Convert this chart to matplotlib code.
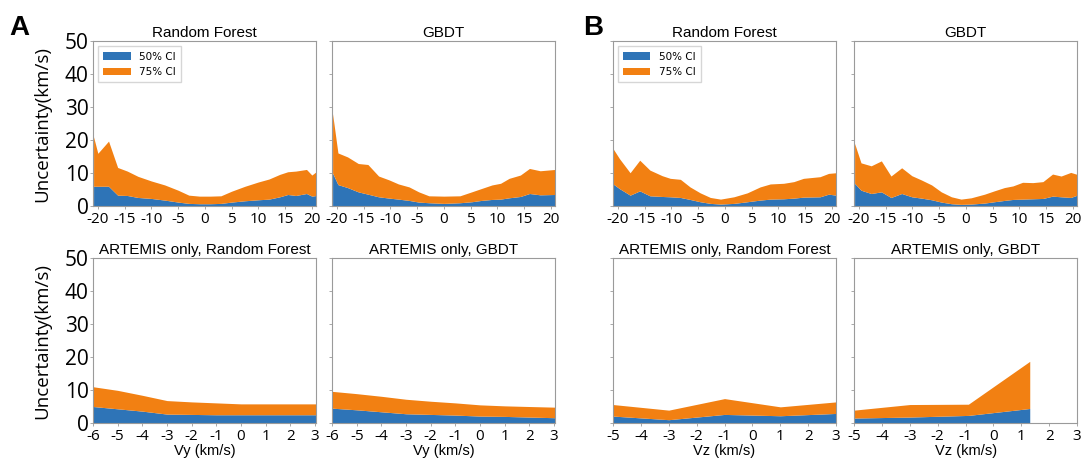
import matplotlib
matplotlib.use("Agg")
import matplotlib.pyplot as plt

plt.rcParams["axes.unicode_minus"] = False

# ---- data: (x, 50% CI, 75% CI) for each panel ----
vy_rf_x = [-20.8, -20, -18, -16.3, -14.5, -12.5, -10, -7.5, -5, -3, -1, 1, 3, 5, 7.5, 10, 12, 14, 15.5, 17, 19, 20, 20.8]
vy_rf_50 = [6, 6, 6, 3.3, 3.2, 2.6, 2.3, 1.8, 1.2, 0.8, 0.7, 0.7, 0.8, 1.2, 1.6, 1.9, 2.1, 2.8, 3.5, 3.2, 3.8, 3.0, 3.2]
vy_rf_75 = [21, 16, 19.7, 11.7, 10.6, 9.0, 7.6, 6.4, 4.8, 3.3, 3.0, 3.0, 3.1, 4.5, 6.0, 7.3, 8.2, 9.6, 10.4, 10.6, 11.1, 9.4, 10.4]

vy_gb_x = [-20.8, -19.8, -18, -16, -14.2, -12.2, -10.2, -8.5, -6.5, -4.7, -2.8, 0, 3, 5.2, 7, 9, 10.6, 12.2, 14.3, 16, 18, 20.8]
vy_gb_50 = [10, 6.5, 5.6, 4.3, 3.6, 2.8, 2.4, 2.1, 1.7, 1.2, 1.0, 0.8, 1.0, 1.3, 1.7, 2.0, 2.1, 2.5, 2.9, 3.8, 3.4, 3.5]
vy_gb_75 = [28, 16.1, 14.9, 12.9, 12.6, 9.1, 7.9, 6.7, 5.8, 4.3, 3.1, 3.0, 3.1, 4.3, 5.3, 6.4, 6.9, 8.4, 9.4, 11.4, 10.7, 11.1]

vz_rf_x = [-20.8, -19.7, -17.7, -15.9, -14, -11.7, -10.2, -8.3, -6.5, -4.6, -2.7, -0.8, 1.7, 4.2, 6.6, 8.5, 11, 12.9, 14.7, 17.8, 19.4, 20.8]
vz_rf_50 = [6.6, 5.3, 3.3, 4.6, 3.1, 2.9, 2.8, 2.6, 2.0, 1.3, 0.8, 0.6, 0.8, 1.3, 1.8, 2.1, 2.2, 2.4, 2.7, 2.8, 3.6, 3.3]
vz_rf_75 = [17.2, 14.4, 10.1, 13.9, 10.9, 9.2, 8.4, 8.1, 5.8, 4.0, 2.6, 2.1, 2.8, 4.0, 5.8, 6.7, 6.9, 7.4, 8.4, 8.9, 9.9, 10.1]

vz_gb_x = [-20.8, -19.6, -17.7, -15.8, -14, -12, -10.1, -8.3, -6.4, -4.6, -2.7, -0.9, 1, 3.5, 5.3, 7.2, 8.8, 10.6, 12.5, 14.4, 16.2, 17.8, 19.6, 20.8]
vz_gb_50 = [6.9, 4.8, 3.8, 4.3, 2.6, 3.8, 2.8, 2.4, 1.9, 1.2, 0.7, 0.5, 0.6, 0.9, 1.3, 1.7, 2.0, 2.1, 2.2, 2.3, 3.0, 2.8, 2.6, 3.3]
vz_gb_75 = [19, 13.1, 12.2, 13.7, 9.1, 11.6, 9.2, 7.9, 6.4, 4.3, 2.8, 2.1, 2.5, 3.6, 4.6, 5.6, 6.1, 7.2, 7.1, 7.4, 9.7, 9.1, 10.2, 9.6]

art_vy_x = [-6, -5, -4, -3, -2, -1, 0, 1, 2, 3.05]
art_vy_rf_50 = [5.0, 4.3, 3.6, 2.7, 2.6, 2.5, 2.5, 2.5, 2.5, 2.5]
art_vy_rf_75 = [11.0, 9.9, 8.4, 6.8, 6.4, 6.1, 5.8, 5.8, 5.8, 5.8]
art_vy_gb_50 = [4.5, 4.0, 3.4, 2.8, 2.6, 2.4, 2.1, 2.0, 1.8, 1.6]
art_vy_gb_75 = [9.6, 8.9, 8.1, 7.2, 6.6, 6.1, 5.5, 5.2, 5.0, 4.8]

art_vz_rf_x = [-5, -3, -1, 1, 3]
art_vz_rf_50 = [2.1, 1.0, 2.6, 2.2, 2.9]
art_vz_rf_75 = [5.6, 3.9, 7.4, 4.9, 6.4]

art_vz_gb_x = [-5, -3, -0.9, 1.3]
art_vz_gb_50 = [1.5, 1.8, 2.3, 4.4]
art_vz_gb_75 = [3.9, 5.6, 5.7, 18.7]

top_ticks = [-20, -15, -10, -5, 0, 5, 10, 15, 20]
vy_ticks = [-6, -5, -4, -3, -2, -1, 0, 1, 2, 3]
vz_ticks = [-5, -4, -3, -2, -1, 0, 1, 2, 3]
y_ticks = [0, 10, 20, 30, 40, 50]

BLUE = "#2e74b7"
ORANGE = "#f28012"
GREY = "#9a9a9a"

fig = plt.figure(figsize=(10.83, 4.63), dpi=100)

lefts = [0.0859, 0.3066, 0.566, 0.7886]
w, h = 0.206, 0.356
bottoms = [0.555, 0.0864]

panels = [
    (0, 0, vy_rf_x, vy_rf_50, vy_rf_75, "Random Forest", (-20.9, 20.8), top_ticks, None),
    (0, 1, vy_gb_x, vy_gb_50, vy_gb_75, "GBDT", (-20.9, 20.8), top_ticks, None),
    (0, 2, vz_rf_x, vz_rf_50, vz_rf_75, "Random Forest", (-20.9, 20.8), top_ticks, None),
    (0, 3, vz_gb_x, vz_gb_50, vz_gb_75, "GBDT", (-20.9, 20.8), top_ticks, None),
    (1, 0, art_vy_x, art_vy_rf_50, art_vy_rf_75, "ARTEMIS only, Random Forest", (-6, 3.05), vy_ticks, "Vy (km/s)"),
    (1, 1, art_vy_x, art_vy_gb_50, art_vy_gb_75, "ARTEMIS only, GBDT", (-6, 3.05), vy_ticks, "Vy (km/s)"),
    (1, 2, art_vz_rf_x, art_vz_rf_50, art_vz_rf_75, "ARTEMIS only, Random Forest", (-5, 3), vz_ticks, "Vz (km/s)"),
    (1, 3, art_vz_gb_x, art_vz_gb_50, art_vz_gb_75, "ARTEMIS only, GBDT", (-5, 3), vz_ticks, "Vz (km/s)"),
]

for row, col, x, c50, c75, title, xlim, xt, xlab in panels:
    ax = fig.add_axes([lefts[col], bottoms[row], w, h])
    ax.fill_between(x, 0, c50, color=BLUE, linewidth=0, label="50% CI")
    ax.fill_between(x, c50, c75, color=ORANGE, linewidth=0, label="75% CI")
    ax.set_xlim(*xlim)
    ax.set_ylim(0, 50)
    ax.set_xticks(xt)
    ax.set_xticklabels([str(t) for t in xt], fontfamily="Open Sans", fontsize=11)
    ax.set_yticks(y_ticks)
    if col == 0:
        ax.set_yticklabels([str(t) for t in y_ticks], fontfamily="Open Sans", fontsize=15)
        ax.set_ylabel("Uncertainty(km/s)", fontfamily="Open Sans", fontsize=13.5, labelpad=10)
    else:
        ax.set_yticklabels([])
    ax.tick_params(axis="both", length=2, width=0.6, color=GREY, pad=1)
    ax.tick_params(axis="x", pad=2.5)
    for s in ax.spines.values():
        s.set_color(GREY)
        s.set_linewidth(0.8)
    ax.set_title(title, fontfamily="Liberation Sans", fontsize=11, pad=3)
    if xlab:
        ax.set_xlabel(xlab, fontfamily="Liberation Sans", fontsize=10.5, labelpad=0)
    if row == 0 and col in (0, 2):
        ax.legend(loc="upper left", fontsize=7.5, frameon=True, edgecolor="#cccccc",
                  fancybox=False, handlelength=2.6, borderpad=0.5)

fig.text(0.009, 0.925, "A", fontsize=20, fontweight="bold", fontfamily="Liberation Sans")
fig.text(0.538, 0.925, "B", fontsize=20, fontweight="bold", fontfamily="Liberation Sans")

fig.savefig("out.png", dpi=100)
